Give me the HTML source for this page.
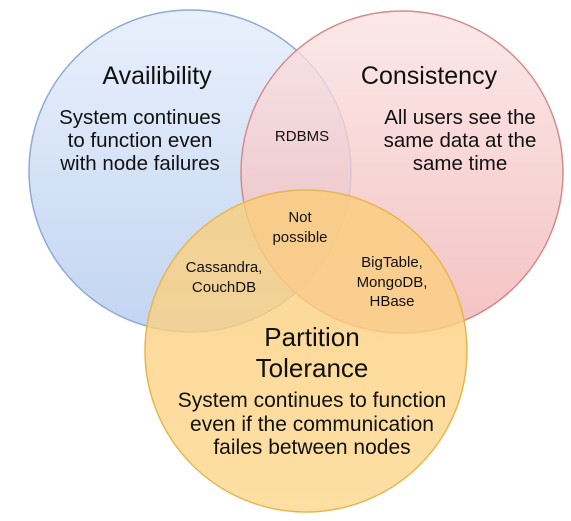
<!DOCTYPE html>
<html><head><meta charset="utf-8"><style>
html,body{margin:0;padding:0;background:#fff;}
svg{display:block;}
text{font-family:"Liberation Sans",sans-serif;fill:#111;text-anchor:middle;}
</style></head><body>
<svg width="571" height="521" viewBox="0 0 571 521" xmlns="http://www.w3.org/2000/svg">
<defs>
<linearGradient id="gb" x1="0" y1="0" x2="0" y2="1"><stop offset="0" stop-color="#e9f0fc"/><stop offset="1" stop-color="#c2d5f1"/></linearGradient>
<linearGradient id="gr" x1="0" y1="0" x2="0" y2="1"><stop offset="0" stop-color="#fbe3e3"/><stop offset="1" stop-color="#f2b3b3"/></linearGradient>
<linearGradient id="gy" x1="0" y1="0" x2="0" y2="1"><stop offset="0" stop-color="#fbcd7a"/><stop offset="1" stop-color="#fdd78c"/></linearGradient>
</defs>
<circle cx="190" cy="171" r="161" fill="url(#gb)" stroke="#8eaad6" stroke-width="1.5"/>
<circle cx="402" cy="172" r="161" fill="url(#gr)" fill-opacity="0.8" stroke="#d88a8a" stroke-width="1.5"/>
<circle cx="306" cy="351" r="161" fill="url(#gy)" fill-opacity="0.8" stroke="#e6b74e" stroke-width="1.5"/>
<text x="157" y="84" font-size="25">Availibility</text>
<text x="140" y="124" font-size="20.5">System continues</text>
<text x="140" y="147" font-size="20.5">to function even</text>
<text x="140" y="170" font-size="20.5">with node failures</text>
<text x="429" y="84" font-size="25">Consistency</text>
<text x="460" y="124" font-size="20.5">All users see the</text>
<text x="460" y="147" font-size="20.5">same data at the</text>
<text x="460" y="170" font-size="20.5">same time</text>
<text x="302" y="141" font-size="15">RDBMS</text>
<text x="300" y="222" font-size="15">Not</text>
<text x="300" y="242" font-size="15">possible</text>
<text x="224" y="272" font-size="15">Cassandra,</text>
<text x="224" y="292" font-size="15">CouchDB</text>
<text x="392" y="267" font-size="15">BigTable,</text>
<text x="392" y="287" font-size="15">MongoDB,</text>
<text x="392" y="306" font-size="15">HBase</text>
<text x="312" y="346" font-size="26">Partition</text>
<text x="312" y="377" font-size="26">Tolerance</text>
<text x="312" y="407" font-size="21">System continues to function</text>
<text x="312" y="431" font-size="21">even if the communication</text>
<text x="312" y="454" font-size="21">failes between nodes</text>
</svg>
</body></html>
